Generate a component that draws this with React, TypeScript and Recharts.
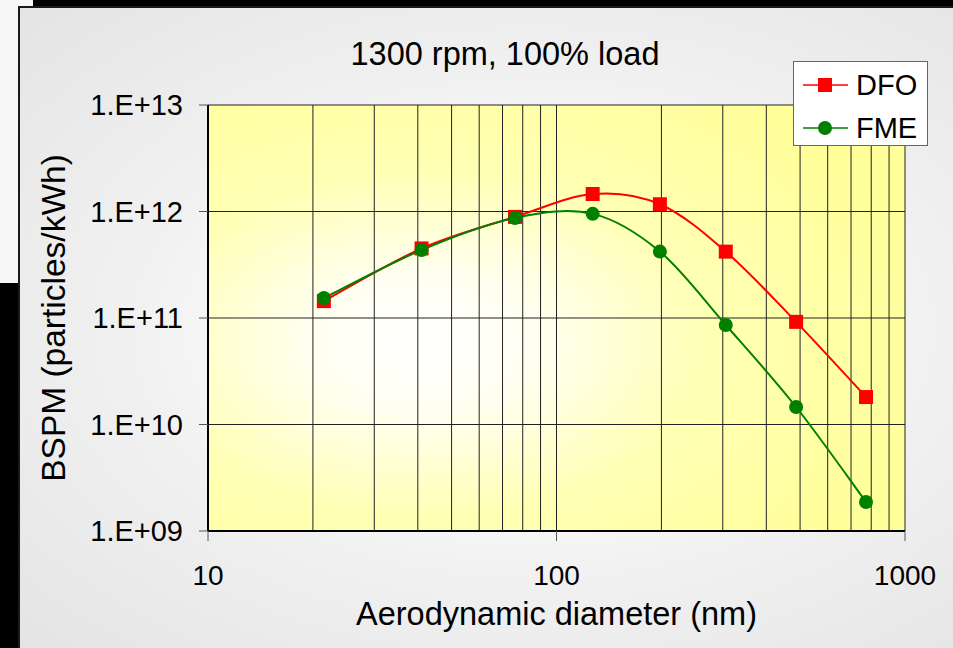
import { LineChart, Line, XAxis, YAxis, CartesianGrid, ReferenceLine, Label } from 'recharts'

const diameters = [21.5, 41, 76, 127, 198, 306, 487, 773]
const dfoValues = [1.44e11, 4.5e11, 8.9e11, 1.46e12, 1.17e12, 4.2e11, 9.2e10, 1.81e10]
const fmeValues = [1.54e11, 4.35e11, 8.7e11, 9.5e11, 4.2e11, 8.6e10, 1.46e10, 1.87e9]

const xTicks = [10, 100, 1000]
const xGridLines = [20, 30, 40, 50, 60, 70, 80, 90, 100, 200, 300, 400, 500, 600, 700, 800, 900, 1000]
const yTicks = [1e9, 1e10, 1e11, 1e12, 1e13]

const data = diameters.map((d, i) => ({ d, DFO: dfoValues[i], FME: fmeValues[i] }))

const FONT = 'Arial, "Liberation Sans", sans-serif'

// excel style smoothed line (catmull-rom through the points)
function excelCurve(context: any) {
  let pts: [number, number][] = []
  return {
    areaStart() {},
    areaEnd() {},
    lineStart() { pts = [] },
    lineEnd() {
      if (!pts.length) return
      context.moveTo(pts[0][0], pts[0][1])
      for (let i = 0; i < pts.length - 1; i++) {
        const p0 = pts[Math.max(0, i - 1)]
        const p1 = pts[i]
        const p2 = pts[i + 1]
        const p3 = pts[Math.min(pts.length - 1, i + 2)]
        context.bezierCurveTo(
          p1[0] + (p2[0] - p0[0]) / 6, p1[1] + (p2[1] - p0[1]) / 6,
          p2[0] - (p3[0] - p1[0]) / 6, p2[1] - (p3[1] - p1[1]) / 6,
          p2[0], p2[1],
        )
      }
    },
    point(x: number, y: number) { pts.push([x, y]) },
  }
}

const fmtExp = (v: number) => `1.E+${String(Math.round(Math.log10(v))).padStart(2, '0')}`

const SquareDot = (props: any) => {
  const { cx, cy } = props
  if (cx == null || cy == null) return null
  return <rect x={cx - 7} y={cy - 7} width={14} height={14} fill="#ff0000" />
}

const CircleDot = (props: any) => {
  const { cx, cy } = props
  if (cx == null || cy == null) return null
  return <circle cx={cx} cy={cy} r={7} fill="#008000" />
}

const legendItems = [
  { name: 'DFO', color: '#ff0000', square: true },
  { name: 'FME', color: '#008000', square: false },
]

function LegendBox() {
  return (
    <div style={{ position: 'absolute', left: 793, top: 61, width: 133, height: 83, background: '#fff', border: '1px solid #666', fontFamily: FONT }}>
      {legendItems.map((it, i) => (
        <div key={it.name} style={{ position: 'absolute', left: 9, top: 6 + i * 43, height: 34, display: 'flex', alignItems: 'center' }}>
          <svg width={46} height={20}>
            <line x1={0} y1={10} x2={45} y2={10} stroke={it.color} strokeWidth={1.5} />
            {it.square ? <rect x={15} y={3} width={14} height={14} fill={it.color} /> : <circle cx={22} cy={10} r={7} fill={it.color} />}
          </svg>
          <span style={{ fontSize: 29, marginLeft: 7, color: '#000', lineHeight: '34px' }}>{it.name}</span>
        </div>
      ))}
    </div>
  )
}

export default function App() {
  return (
    <div style={{ position: 'fixed', left: 0, top: 0, width: 953, height: 648, overflow: 'hidden', background: '#f7f7f7' }}>
      <div style={{ position: 'absolute', left: 33, top: 0, width: 920, height: 6, background: '#000' }} />
      <div style={{ position: 'absolute', left: 0, top: 283, width: 18, height: 365, background: '#000' }} />
      <div
        style={{
          position: 'absolute', left: 18, top: 6, width: 935, height: 642, boxSizing: 'border-box',
          borderLeft: '2px solid #1a1a1a', borderTop: '2px solid #1a1a1a',
          background: 'radial-gradient(ellipse at 55% 50%, #ffffff 25%, #f1f1f1 55%, #e4e4e4 100%)',
        }}
      />
      <div style={{ position: 'absolute', left: 0, top: 36, width: 1010, textAlign: 'center', fontFamily: FONT, fontSize: 32.5, color: '#000' }}>
        1300 rpm, 100% load
      </div>
      <div style={{ position: 'absolute', left: 0, top: 0 }}>
        <LineChart width={953} height={648} data={data} margin={{ top: 105, right: 48, bottom: 0, left: 0 }}>
          <defs>
            <radialGradient id="plotFill" cx="0.31" cy="0.56" r="0.75">
              <stop offset="0" stopColor="#ffffff" />
              <stop offset="0.22" stopColor="#fffff0" />
              <stop offset="0.55" stopColor="#ffffb4" />
              <stop offset="1" stopColor="#ffff99" />
            </radialGradient>
          </defs>
          <CartesianGrid vertical={false} stroke="#222" strokeWidth={1} fill="url(#plotFill)" fillOpacity={1} />
          {xGridLines.map(v => (
            <ReferenceLine key={v} x={v} stroke="#222" strokeWidth={1} />
          ))}
          <XAxis
            dataKey="d" type="number" scale="log" domain={[10, 1000]} ticks={xTicks} allowDataOverflow height={117}
            axisLine={{ stroke: '#000', strokeWidth: 2 }} tickLine={{ stroke: '#555' }} tickSize={10} tickMargin={24}
            tick={{ fill: '#000', fontSize: 28, fontFamily: FONT }}
          >
            <Label
              content={({ viewBox }: any) => (
                <text x={viewBox.x + viewBox.width / 2} y={viewBox.y + 83} textAnchor="middle" dominantBaseline="central"
                  style={{ fontSize: 32.5, fontFamily: FONT, fill: '#000' }}>
                  Aerodynamic diameter (nm)
                </text>
              )}
            />
          </XAxis>
          <YAxis
            type="number" scale="log" domain={[1e9, 1e13]} ticks={yTicks} allowDataOverflow width={208}
            tickFormatter={fmtExp} axisLine={{ stroke: '#000', strokeWidth: 2 }} tickLine={{ stroke: '#555' }} tickSize={9} tickMargin={16}
            tick={{ fill: '#000', fontSize: 29, fontFamily: FONT }}
          >
            <Label
              content={({ viewBox }: any) => {
                const cy = viewBox.y + viewBox.height / 2
                return (
                  <text x={53} y={cy} transform={`rotate(-90 53 ${cy})`} textAnchor="middle" dominantBaseline="central"
                    style={{ fontSize: 33.5, fontFamily: FONT, fill: '#000' }}>
                    BSPM (particles/kWh)
                  </text>
                )
              }}
            />
          </YAxis>
          <Line dataKey="DFO" type={excelCurve as any} stroke="#ff0000" strokeWidth={2} dot={<SquareDot />} activeDot={false} isAnimationActive={false} />
          <Line dataKey="FME" type={excelCurve as any} stroke="#008000" strokeWidth={2} dot={<CircleDot />} activeDot={false} isAnimationActive={false} />
        </LineChart>
      </div>
      <LegendBox />
    </div>
  )
}
